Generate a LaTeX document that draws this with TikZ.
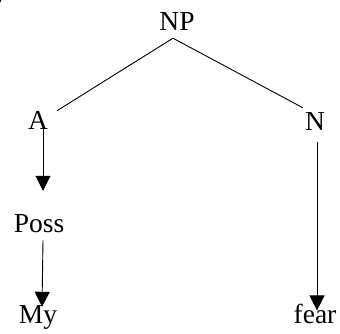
\documentclass[tikz,border=0pt]{standalone}
\usepackage{fontspec}
\setmainfont{Liberation Serif}
\usetikzlibrary{arrows.meta}
\begin{document}
\begin{tikzpicture}[x=1pt,y=-1pt,
  lbl/.style={anchor=base,inner sep=0pt,font=\fontsize{27.5}{33}\selectfont},
  edge/.style={line width=0.9pt},
  arr/.style={line width=0.9pt,-{Triangle[width=15pt,length=15pt]}}]
\useasboundingbox (0,0) rectangle (340,334);
\node[lbl] (cut) at (-1,2) {)};
\node[lbl] (NP) at (177,31) {NP};
\node[lbl] (A) at (38,130) {A};
\node[lbl] (N) at (315,131) {N};
\node[lbl] (Poss) at (39,232) {Poss};
\node[lbl] (My) at (38,323) {My};
\node[lbl] (fear) at (315,323) {fear};
\draw[edge] ([shift={(-4pt,-7pt)}]NP.south) -- ([shift={(9pt,1pt)}]A.north east);
\draw[edge] ([shift={(-4pt,-7pt)}]NP.south) -- ([shift={(-2pt,5pt)}]N.north west);
\draw[arr] ([shift={(5pt,2pt)}]A.south) -- ([shift={(4pt,23pt)}]Poss.north);
\draw[arr] ([shift={(4pt,-8pt)}]Poss.south) -- ([shift={(4pt,-2pt)}]My.north);
\draw[arr] ([shift={(2pt,-11pt)}]N.south) -- ([shift={(2pt,-7pt)}]fear.north);
\end{tikzpicture}
\end{document}
